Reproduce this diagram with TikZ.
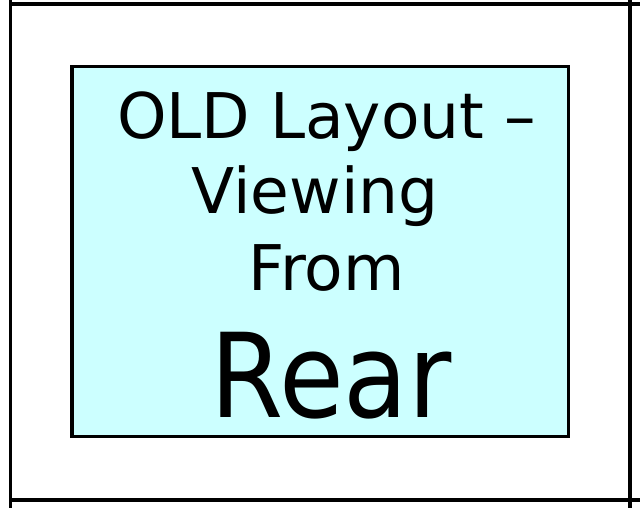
\documentclass[tikz,border=0pt]{standalone}
\usepackage{fontspec}
\setmainfont{DejaVu Sans}
\definecolor{panelcyan}{RGB}{204,255,255}
\tikzset{
  frameline/.style={line width=3.4pt, black},
  panel/.style={draw=black, line width=3.4pt, fill=panelcyan},
  bigtext/.style={anchor=base, inner sep=0pt, font=\fontsize{63}{63}\selectfont},
  hugetext/.style={anchor=base, inner sep=0pt, xscale=0.9, transform shape, font=\fontsize{117}{117}\selectfont}
}
\begin{document}
\begin{tikzpicture}[x=1pt, y=-1pt]
  \useasboundingbox (0,0) rectangle (640,508);
  \fill[white] (0,0) rectangle (640,508);
  % frame lines
  \draw[frameline] (10.5,0) -- (10.5,508);
  \draw[frameline] (630,0) -- (630,508);
  \draw[frameline] (10.5,4) -- (640,4);
  \draw[frameline] (10.5,500) -- (640,500);
  % panel
  \draw[panel] (72,66.5) rectangle (568.5,436.5);
  % text
  \node[bigtext] (l1) at (326.5,138.5) {OLD Layout –};
  \node[bigtext] (l2) at (315,213) {Viewing};
  \node[bigtext] (l3) at (326.5,290) {From};
  \node[hugetext] (l4) at (331,417) {Rear};
\end{tikzpicture}
\end{document}
